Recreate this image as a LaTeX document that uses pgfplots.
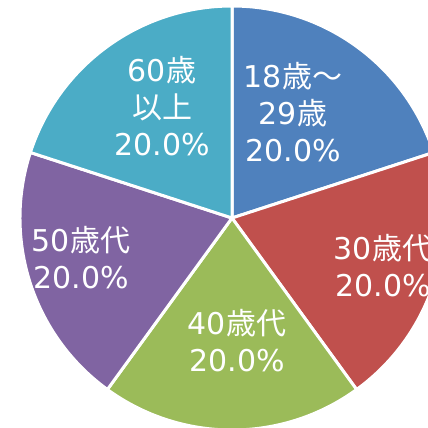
\documentclass[border=0pt]{standalone}
\usepackage{pgfplots}
\pgfplotsset{compat=1.18}
\usepackage{fontspec}
\setmainfont{DejaVu Sans}
\newfontfamily\cjk{Noto Sans CJK JP}

\definecolor{c1}{HTML}{4F81BD}
\definecolor{c2}{HTML}{C0504D}
\definecolor{c3}{HTML}{9BBB59}
\definecolor{c4}{HTML}{8064A2}
\definecolor{c5}{HTML}{4BACC6}

\begin{document}
\begin{tikzpicture}[
  lbl/.style={text=white, align=center, inner sep=0pt,
    font=\fontsize{30bp}{37bp}\selectfont},
]
\begin{axis}[
  width=428bp, height=428bp, scale only axis,
  xmin=0, xmax=428, ymin=0, ymax=428,
  hide axis, clip=true,
]
\def\cx{232}\def\cy{210}\def\r{212}
\xdef\s{90}
% shares in percent, clockwise from the top
\foreach \v/\col in {20/c1,20/c2,20/c3,20/c4,20/c5}{
  \pgfmathsetmacro\e{\s-3.6*\v}
  \edef\temp{\noexpand\fill[\col,draw=white,line width=3bp,line join=round]
    (axis cs:\cx,\cy) -- (axis cs:{\cx+\r*cos(\s)},{\cy+\r*sin(\s)})
    arc[start angle=\s,end angle=\e,radius=\r bp] -- cycle;}
  \temp
  \global\let\s\e
}
\node[lbl] at (axis cs:293,316) {18{\cjk 歳〜}\\29{\cjk 歳}\\20.0\%};
\node[lbl] at (axis cs:383,162) {30{\cjk 歳代}\\20.0\%};
\node[lbl] at (axis cs:237,87) {40{\cjk 歳代}\\20.0\%};
\node[lbl] at (axis cs:81,170) {50{\cjk 歳代}\\20.0\%};
\node[lbl] at (axis cs:162,322) {60{\cjk 歳}\\{\cjk 以上}\\20.0\%};
\end{axis}
\pgfresetboundingbox
\useasboundingbox (current axis.south west) rectangle (current axis.north east);
\end{tikzpicture}
\end{document}
